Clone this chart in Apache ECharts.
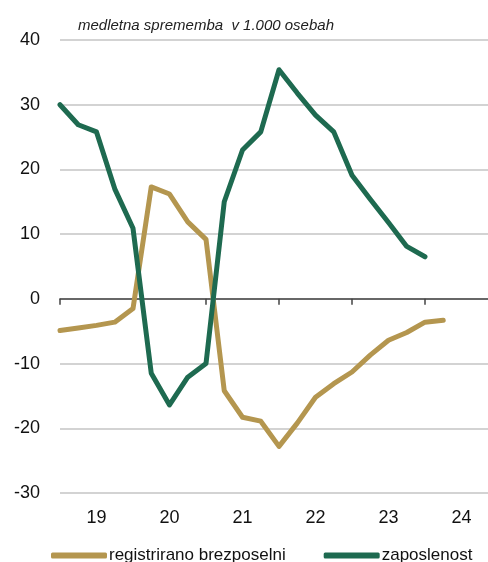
<!DOCTYPE html>
<html>
<head>
<meta charset="utf-8">
<script src="https://cdn.jsdelivr.net/npm/echarts@6/dist/echarts.min.js"></script>
<style>
  html, body { margin: 0; padding: 0; background: #fff; }
  #chart { width: 488px; height: 562px; }
</style>
</head>
<body>
<div id="chart"></div>
<script>
// quarters (year + quarter)
const quarters = [
  '19Q1', '19Q2', '19Q3', '19Q4',
  '20Q1', '20Q2', '20Q3', '20Q4',
  '21Q1', '21Q2', '21Q3', '21Q4',
  '22Q1', '22Q2', '22Q3', '22Q4',
  '23Q1', '23Q2', '23Q3', '23Q4',
  '24Q1', '24Q2'
]
const brezposelni = [-4.9, -4.5, -4.1, -3.6, -1.5, 17.3, 16.2, 11.9, 9.2, -14.2, -18.3, -18.9,
  -22.8, -19.2, -15.2, -13.1, -11.3, -8.7, -6.4, -5.2, -3.6, -3.3]
const zaposlenost = [30.0, 26.9, 25.8, 17.0, 10.9, -11.5, -16.4, -12.1, -10.0, 15.0, 23.0, 25.8,
  35.4, 31.8, 28.4, 25.8, 19.1, 15.4, 11.8, 8.1, 6.5]
const yearTicks = [2019, 2020, 2021, 2022, 2023, 2024]
const yearLabels = [2019.5, 2020.5, 2021.5, 2022.5, 2023.5, 2024.5]

const xMin = 2019
const xMax = 2019 + 428 / 73

function qToX(q) {
  return 2000 + parseInt(q.slice(0, 2)) + (parseInt(q.slice(3)) - 1) / 4
}

function pairs(vals) {
  return vals.map((v, i) => [qToX(quarters[i]), v])
}

const chart = echarts.init(document.getElementById('chart'))
const font = 'Liberation Sans, Arial, sans-serif'

chart.setOption({
  animation: false,
  textStyle: { fontFamily: font },
  title: {
    text: 'medletna sprememba  v 1.000 osebah',
    left: 73,
    top: 13,
    textStyle: { fontSize: 15, fontStyle: 'italic', fontWeight: 'normal', color: '#222', fontFamily: font }
  },
  grid: { left: 60, right: 0, top: 40, bottom: 69 },
  legend: {
    left: 46,
    top: 542,
    itemWidth: 56,
    itemHeight: 6,
    itemGap: 38,
    icon: 'roundRect',
    textStyle: { fontSize: 17, color: '#111', fontFamily: font, padding: [0, 0, 0, -3] },
    data: ['registrirano brezposelni', 'zaposlenost']
  },
  xAxis: [
    {
      type: 'value',
      min: xMin,
      max: xMax,
      axisLine: { onZero: true, lineStyle: { color: '#444', width: 1.5 } },
      axisTick: { show: true, customValues: yearTicks, length: 6, lineStyle: { color: '#444', width: 1.5 } },
      axisLabel: { show: false },
      splitLine: { show: false }
    },
    {
      type: 'value',
      min: xMin,
      max: xMax,
      position: 'bottom',
      axisLine: { show: false, onZero: false },
      axisTick: { show: false },
      axisLabel: {
        customValues: yearLabels,
        formatter: (v) => String(Math.floor(v) - 2000),
        fontSize: 18,
        color: '#111',
        margin: 16
      },
      splitLine: { show: false }
    }
  ],
  yAxis: {
    type: 'value',
    min: -30,
    max: 40,
    interval: 10,
    axisLine: { show: false },
    axisTick: { show: false },
    axisLabel: { fontSize: 18, color: '#111', margin: 20 },
    splitLine: { lineStyle: { color: '#c4c4c4', width: 1.5 } }
  },
  series: [
    {
      name: 'registrirano brezposelni',
      type: 'line',
      data: pairs(brezposelni),
      symbol: 'none',
      lineStyle: { color: '#b4964f', width: 5, cap: 'round', join: 'round' },
      itemStyle: { color: '#b4964f' }
    },
    {
      name: 'zaposlenost',
      type: 'line',
      data: pairs(zaposlenost),
      symbol: 'none',
      lineStyle: { color: '#1e6a50', width: 5, cap: 'round', join: 'round' },
      itemStyle: { color: '#1e6a50' }
    }
  ]
})
</script>
</body>
</html>
